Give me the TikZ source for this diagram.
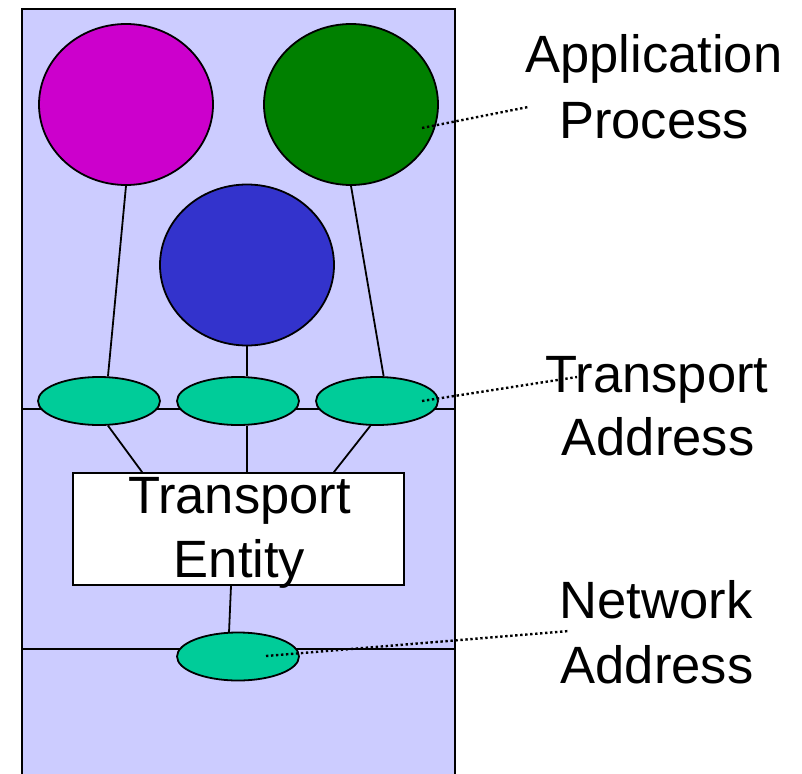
\documentclass[tikz,border=0pt]{standalone}
\usepackage{fontspec}
\setmainfont{Liberation Sans}
\usetikzlibrary{shapes.geometric,calc}
\definecolor{lav}{HTML}{CCCCFF}
\definecolor{mag}{HTML}{CC00CC}
\definecolor{grn}{HTML}{008000}
\definecolor{blu}{HTML}{3333CC}
\definecolor{teal}{HTML}{00CC99}
\tikzset{
  outl/.style={draw=black,line width=1.8pt},
  bigcirc/.style={outl,ellipse,inner sep=0pt,minimum width=174pt,minimum height=161pt},
  addr/.style={outl,ellipse,inner sep=0pt,minimum width=122pt,minimum height=48pt,fill=teal},
  conn/.style={draw=black,line width=1.8pt},
  leader/.style={draw=black,line width=2.4pt,dash pattern=on 2.4pt off 2.6pt},
  lbl/.style={anchor=base,inner sep=0pt,font=\fontsize{52.5}{64}\selectfont}
}
\begin{document}
\begin{tikzpicture}[x=1pt,y=-1pt]
\useasboundingbox (0,0) rectangle (802,773);
% frame
\coordinate (ftl) at (22,9);
\coordinate (fbr) at (455,790);
\filldraw[fill=lav,line width=1.8pt] (ftl) rectangle (fbr);
% horizontal layer lines
\coordinate (h1l) at (22,409); \coordinate (h1r) at (455,409);
\coordinate (h2l) at (22,649); \coordinate (h2r) at (455,649);
\draw[conn] (h1l) -- (h1r);
\draw[conn] (h2l) -- (h2r);
% processes
\node[bigcirc,fill=mag] (pm) at (126,104.5) {};
\node[bigcirc,fill=grn] (pg) at (351,104.5) {};
\node[bigcirc,fill=blu] (pb) at (247,265) {};
% addresses
\node[addr] (e1) at (99,401) {};
\node[addr] (e2) at (238,401) {};
\node[addr] (e3) at (377,401) {};
\node[addr] (e4) at (238,656.5) {};
% transport entity
\node[outl,fill=white,rectangle,inner sep=0pt,minimum width=331pt,minimum height=112pt] (ent) at (238.5,529) {};
\node[lbl] (ent1) at (239.5,513) {Transport};
\node[lbl] (ent2) at (239.5,577) {Entity};
% connectors
\draw[conn] (pm.south) -- (e1.70);
\draw[conn] (pb.south) -- (pb.south |- e2.north);
\draw[conn] (pg.south) -- (e3.75);
\draw[conn] (e1.-70) -- ($(ent.north west)+(70,0)$);
\draw[conn] (e2.-70) -- (e2.-70 |- ent.north);
\draw[conn] (e3.-105) -- ($(ent.north east)+(-71,0)$);
\draw[conn] ([xshift=-7.5pt]ent.south) -- (e4.110);
% labels
\node[lbl] (la1) at (654,73) {Application};
\node[lbl] (la2) at (654,138) {Process};
\node[lbl] (lt1) at (657,392) {Transport};
\node[lbl] (lt2) at (658,455) {Address};
\node[lbl] (ln1) at (656,618) {Network};
\node[lbl] (ln2) at (657,683) {Address};
% leader lines
\coordinate (ta) at (528,107);
\coordinate (tt) at (577,377);
\coordinate (tn) at (569,631);
\draw[leader] ($(pg.center)+(71,23.5)$) -- (ta);
\draw[leader] ($(e3.center)+(45,0)$) -- (tt);
\draw[leader] ($(e4.center)+(28,-0.5)$) -- (tn);
\end{tikzpicture}
\end{document}
